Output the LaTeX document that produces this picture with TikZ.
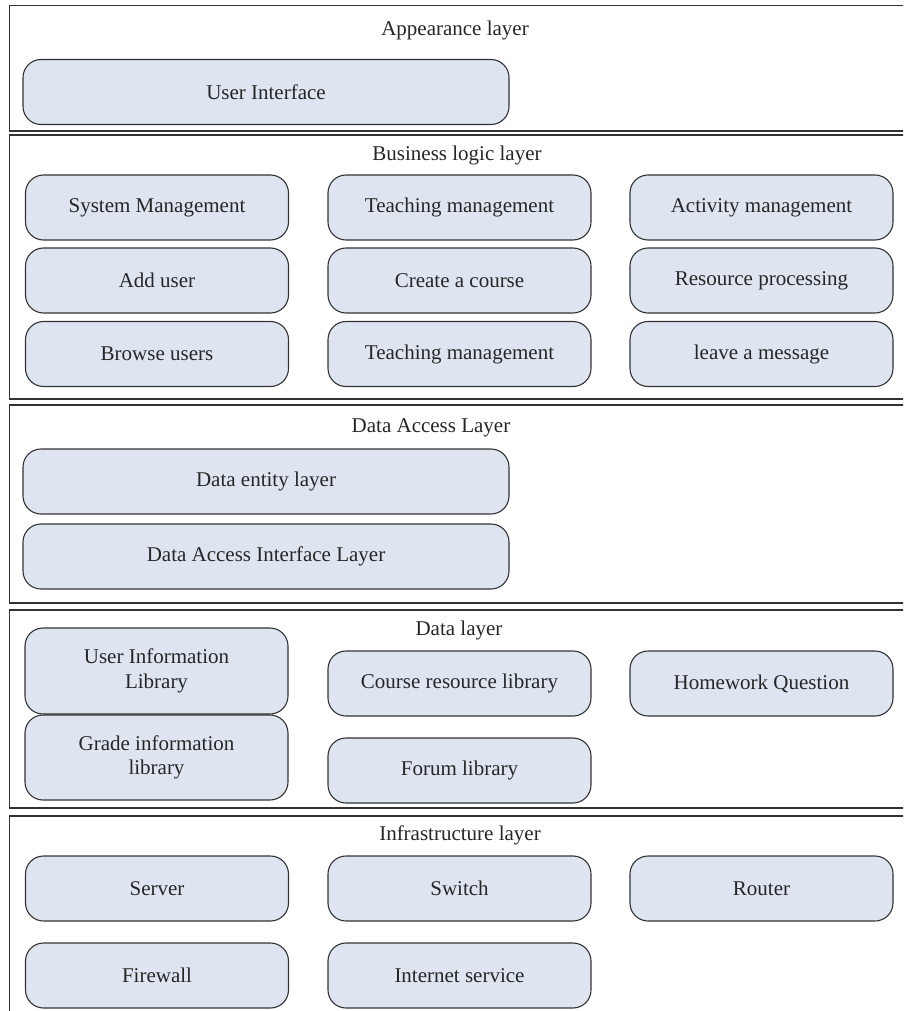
\documentclass[tikz,border=0pt]{standalone}
\usepackage{fontspec}
\setmainfont{Liberation Serif}
\definecolor{boxfill}{HTML}{DEE5F1}
\definecolor{linegray}{HTML}{333333}
\tikzset{
  layerbox/.style={draw=linegray, line width=1.3pt},
  itembox/.style={draw=linegray, fill=boxfill, line width=1.1pt, rounded corners=18pt,
    minimum width=263pt, minimum height=65pt, inner sep=0pt, align=center,
    font=\fontsize{21}{24.5}\selectfont, text=black!85},
  widebox/.style={itembox, minimum width=486pt},
  title/.style={inner sep=0pt, font=\fontsize{21}{24.5}\selectfont, text=black!85}
}
\begin{document}
\begin{tikzpicture}[x=1pt,y=-1pt]
\useasboundingbox (0,0) rectangle (903,1011);
\clip (0,0) rectangle (903,1011);
% layers
\draw[layerbox] (9.5,5.5) rectangle (930,131);
\draw[layerbox] (9.5,135) rectangle (930,399);
\draw[layerbox] (9.5,405) rectangle (930,603);
\draw[layerbox] (9.5,610) rectangle (930,808);
\draw[layerbox] (9.5,816) rectangle (930,1040);
% titles
\node[title] (t1) at (455,30) {Appearance layer};
\node[title] (t2) at (457,155) {Business logic layer};
\node[title] (t3) at (431,428) {Data Access Layer};
\node[title] (t4) at (459,630) {Data layer};
\node[title] (t5) at (460,835) {Infrastructure layer};
% appearance
\node[widebox] (ui) at (266,92) {User Interface};
% business
\node[itembox] (sm) at (157,207.5) {System Management};
\node[itembox] (tm) at (459.5,207.5) {Teaching management};
\node[itembox] (am) at (761.5,207.5) {Activity management};
\node[itembox] (au) at (157,280.5) {Add user};
\node[itembox] (cc) at (459.5,280.5) {Create a course};
\node[itembox] (rp) at (761.5,280.5) {Resource processing};
\node[itembox] (bu) at (157,354) {Browse users};
\node[itembox] (tm2) at (459.5,354) {Teaching management};
\node[itembox] (lm) at (761.5,354) {leave a message};
% data access
\node[widebox] (de) at (266,481.5) {Data entity layer};
\node[widebox] (dai) at (266,556.5) {Data Access Interface Layer};
% data layer
\node[itembox, minimum height=86pt] (uil) at (156.5,671) {User Information\\Library};
\node[itembox, minimum height=85pt] (gil) at (156.5,757.5) {Grade information\\library};
\node[itembox] (crl) at (459.5,683.5) {Course resource library};
\node[itembox] (fl) at (459.5,770.5) {Forum library};
\node[itembox] (hq) at (761.5,683.5) {Homework Question};
% infrastructure
\node[itembox] (sv) at (157,888.5) {Server};
\node[itembox] (sw) at (459.5,888.5) {Switch};
\node[itembox] (rt) at (761.5,888.5) {Router};
\node[itembox] (fw) at (157,975.5) {Firewall};
\node[itembox] (is) at (459.5,975.5) {Internet service};
\end{tikzpicture}
\end{document}
